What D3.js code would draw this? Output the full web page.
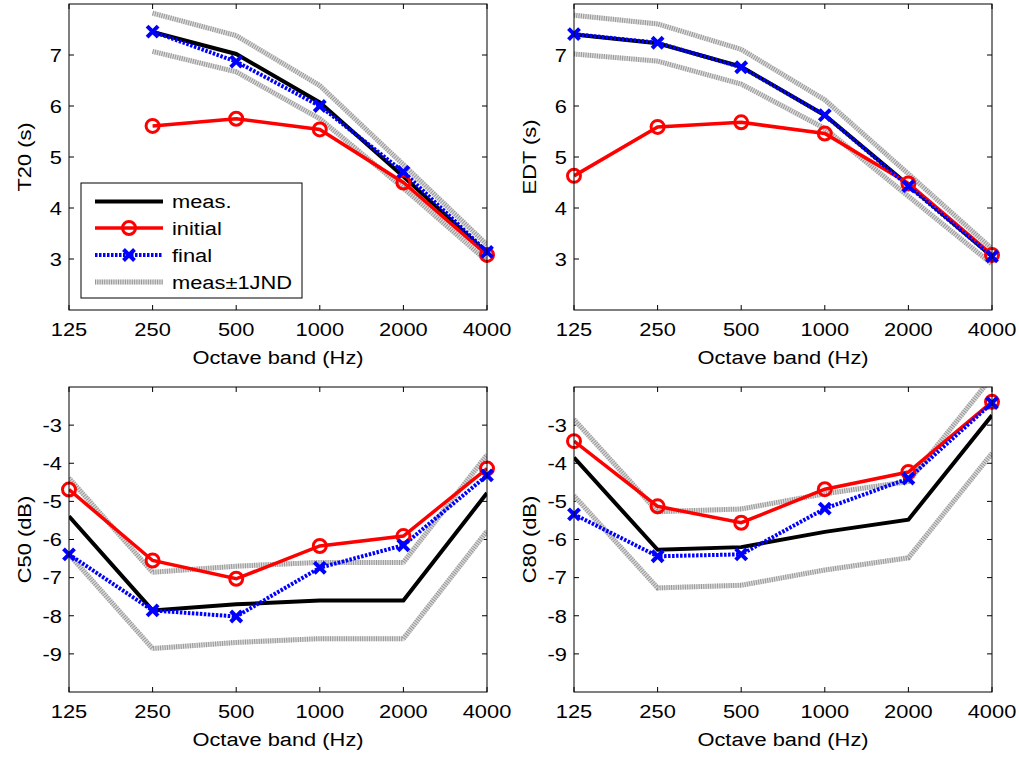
<!DOCTYPE html>
<html><head><meta charset="utf-8">
<script src="https://cdn.jsdelivr.net/npm/d3@7"></script>
<style>
body{margin:0;background:#fff;}
svg text{font-family:"Liberation Sans",Arial,sans-serif;fill:#000;}
</style></head>
<body><svg id="chart" width="1019" height="758"></svg>
<script>
const bands = ["125","250","500","1000","2000","4000"];
const ticksTop = [3,4,5,6,7];
const ticksBottom = [-9,-8,-7,-6,-5,-4,-3];

const T20_meas    = [null, 7.45, 7.02, 6.07, 4.62, 3.12];
const T20_upper   = [null, 7.82, 7.38, 6.40, 4.85, 3.28];
const T20_lower   = [null, 7.07, 6.67, 5.75, 4.39, 2.96];
const T20_initial = [null, 5.61, 5.75, 5.54, 4.50, 3.08];
const T20_final   = [null, 7.46, 6.87, 6.00, 4.71, 3.14];

const EDT_meas    = [7.40, 7.23, 6.77, 5.82, 4.45, 3.05];
const EDT_upper   = [7.78, 7.61, 7.11, 6.12, 4.67, 3.20];
const EDT_lower   = [7.02, 6.88, 6.43, 5.56, 4.23, 2.90];
const EDT_initial = [4.63, 5.59, 5.68, 5.46, 4.48, 3.08];
const EDT_final   = [7.41, 7.24, 6.76, 5.82, 4.43, 3.05];

const C50_meas    = [-5.39, -7.86, -7.70, -7.60, -7.60, -4.78];
const C50_upper   = [-4.39, -6.86, -6.70, -6.60, -6.60, -3.78];
const C50_lower   = [-6.39, -8.86, -8.70, -8.60, -8.60, -5.78];
const C50_initial = [-4.69, -6.55, -7.03, -6.17, -5.91, -4.14];
const C50_final   = [-6.39, -7.86, -8.02, -6.74, -6.15, -4.32];

const C80_meas    = [-3.85, -6.27, -6.20, -5.80, -5.48, -2.74];
const C80_upper   = [-2.85, -5.27, -5.20, -4.80, -4.48, -1.74];
const C80_lower   = [-4.85, -7.27, -7.20, -6.80, -6.48, -3.74];
const C80_initial = [-3.42, -5.13, -5.56, -4.68, -4.23, -2.39];
const C80_final   = [-5.34, -6.44, -6.39, -5.19, -4.40, -2.42];

const svg = d3.select("#chart");
const FS = 19, SX = 1.15;

const panels = [
  {x0:69, x1:487, y0:4, y1:310, dom:[2,8], ticks:ticksTop, label:"T20 (s)",
   meas:T20_meas, upper:T20_upper, lower:T20_lower, initial:T20_initial, final:T20_final, legend:true},
  {x0:574, x1:992, y0:4, y1:310, dom:[2,8], ticks:ticksTop, label:"EDT (s)",
   meas:EDT_meas, upper:EDT_upper, lower:EDT_lower, initial:EDT_initial, final:EDT_final},
  {x0:69, x1:487, y0:387, y1:692, dom:[-10,-2], ticks:ticksBottom, label:"C50 (dB)",
   meas:C50_meas, upper:C50_upper, lower:C50_lower, initial:C50_initial, final:C50_final},
  {x0:574, x1:992, y0:387, y1:692, dom:[-10,-2], ticks:ticksBottom, label:"C80 (dB)",
   meas:C80_meas, upper:C80_upper, lower:C80_lower, initial:C80_initial, final:C80_final}
];

function txt(g, x, y, s, anchor, rot, dy){
  return g.append("text")
    .attr("transform",`translate(${x},${y})${rot?" rotate(-90)":""} scale(${SX},1)`)
    .attr("text-anchor",anchor||"start").attr("dy",dy||null)
    .attr("font-size",FS).text(s);
}
function drawJND(g, path){
  g.append("path").attr("d", path).attr("fill","none").attr("stroke","#dcdcdc").attr("stroke-width",5);
  g.append("path").attr("d", path).attr("fill","none").attr("stroke","#979797").attr("stroke-width",5)
    .attr("stroke-dasharray","1,1.3");
}
function xMarker(g, cx, cy, s){
  g.append("path").attr("d",`M${cx-s},${cy-s}L${cx+s},${cy+s}M${cx-s},${cy+s}L${cx+s},${cy-s}`)
    .attr("stroke","#0000ff").attr("stroke-width",4).attr("fill","none");
}

panels.forEach((p,i)=>{
  const x = d3.scalePoint().domain(bands).range([p.x0,p.x1]);
  const y = d3.scaleLinear().domain(p.dom).range([p.y1,p.y0]);
  const g = svg.append("g");
  const clipId = "clip"+i;
  svg.append("clipPath").attr("id",clipId).append("rect")
    .attr("x",p.x0).attr("y",p.y0).attr("width",p.x1-p.x0).attr("height",p.y1-p.y0);

  const tl = 5;
  bands.forEach(b=>{
    const xx = x(b);
    g.append("line").attr("x1",xx).attr("x2",xx).attr("y1",p.y1).attr("y2",p.y1-tl).attr("stroke","#000");
    g.append("line").attr("x1",xx).attr("x2",xx).attr("y1",p.y0).attr("y2",p.y0+tl).attr("stroke","#000");
    txt(g, xx, p.y1+26, b, "middle");
  });
  p.ticks.forEach(t=>{
    const yy = y(t);
    g.append("line").attr("x1",p.x0).attr("x2",p.x0+tl).attr("y1",yy).attr("y2",yy).attr("stroke","#000");
    g.append("line").attr("x1",p.x1).attr("x2",p.x1-tl).attr("y1",yy).attr("y2",yy).attr("stroke","#000");
    txt(g, p.x0-7, yy, String(t), "end", false, "0.36em");
  });

  txt(g, (p.x0+p.x1)/2, p.y1+54, "Octave band (Hz)", "middle");
  txt(g, p.x0-38, (p.y0+p.y1)/2, p.label, "middle", true);

  const line = d3.line().defined(d=>d!=null).x((d,j)=>x(bands[j])).y(d=>y(d));
  const data = g.append("g").attr("clip-path",`url(#${clipId})`);
  drawJND(data, line(p.upper));
  drawJND(data, line(p.lower));
  data.append("path").attr("d",line(p.meas)).attr("fill","none").attr("stroke","#000").attr("stroke-width",4);
  data.append("path").attr("d",line(p.initial)).attr("fill","none").attr("stroke","#ff0000").attr("stroke-width",3.5);
  data.append("path").attr("d",line(p.final)).attr("fill","none").attr("stroke","#0000ff").attr("stroke-width",4)
    .attr("stroke-dasharray","2.5,1.5");

  const mk = g.append("g");
  p.initial.forEach((v,j)=>{ if(v==null) return;
    mk.append("circle").attr("cx",x(bands[j])).attr("cy",y(v)).attr("r",6.5)
      .attr("fill","none").attr("stroke","#ff0000").attr("stroke-width",3);
  });
  p.final.forEach((v,j)=>{ if(v==null) return; xMarker(mk, x(bands[j]), y(v), 5.5); });

  g.append("rect").attr("x",p.x0).attr("y",p.y0).attr("width",p.x1-p.x0).attr("height",p.y1-p.y0)
    .attr("fill","none").attr("stroke","#000").attr("stroke-width",1);

  if(p.legend){
    const lg = svg.append("g");
    lg.append("rect").attr("x",81).attr("y",183).attr("width",221).attr("height",115)
      .attr("fill","#fff").attr("stroke","#000").attr("stroke-width",1);
    const items = ["meas.","initial","final","meas±1JND"];
    const ys = [201.5, 228, 255, 282];
    const lx0 = 95, lx1 = 163;
    items.forEach((t,k)=>{
      const yy = ys[k];
      const pth = `M${lx0},${yy}L${lx1},${yy}`;
      if(k===0) lg.append("path").attr("d",pth).attr("stroke","#000").attr("stroke-width",4);
      if(k===1){
        lg.append("path").attr("d",pth).attr("stroke","#ff0000").attr("stroke-width",3.5);
        lg.append("circle").attr("cx",(lx0+lx1)/2).attr("cy",yy).attr("r",6.5).attr("fill","none")
          .attr("stroke","#ff0000").attr("stroke-width",3);
      }
      if(k===2){
        lg.append("path").attr("d",pth).attr("stroke","#0000ff").attr("stroke-width",4).attr("stroke-dasharray","2.5,1.5");
        xMarker(lg,(lx0+lx1)/2,yy,5.5);
      }
      if(k===3) drawJND(lg, pth);
      txt(lg, 172, yy, t, "start", false, "0.36em");
    });
  }
});
</script></body></html>
